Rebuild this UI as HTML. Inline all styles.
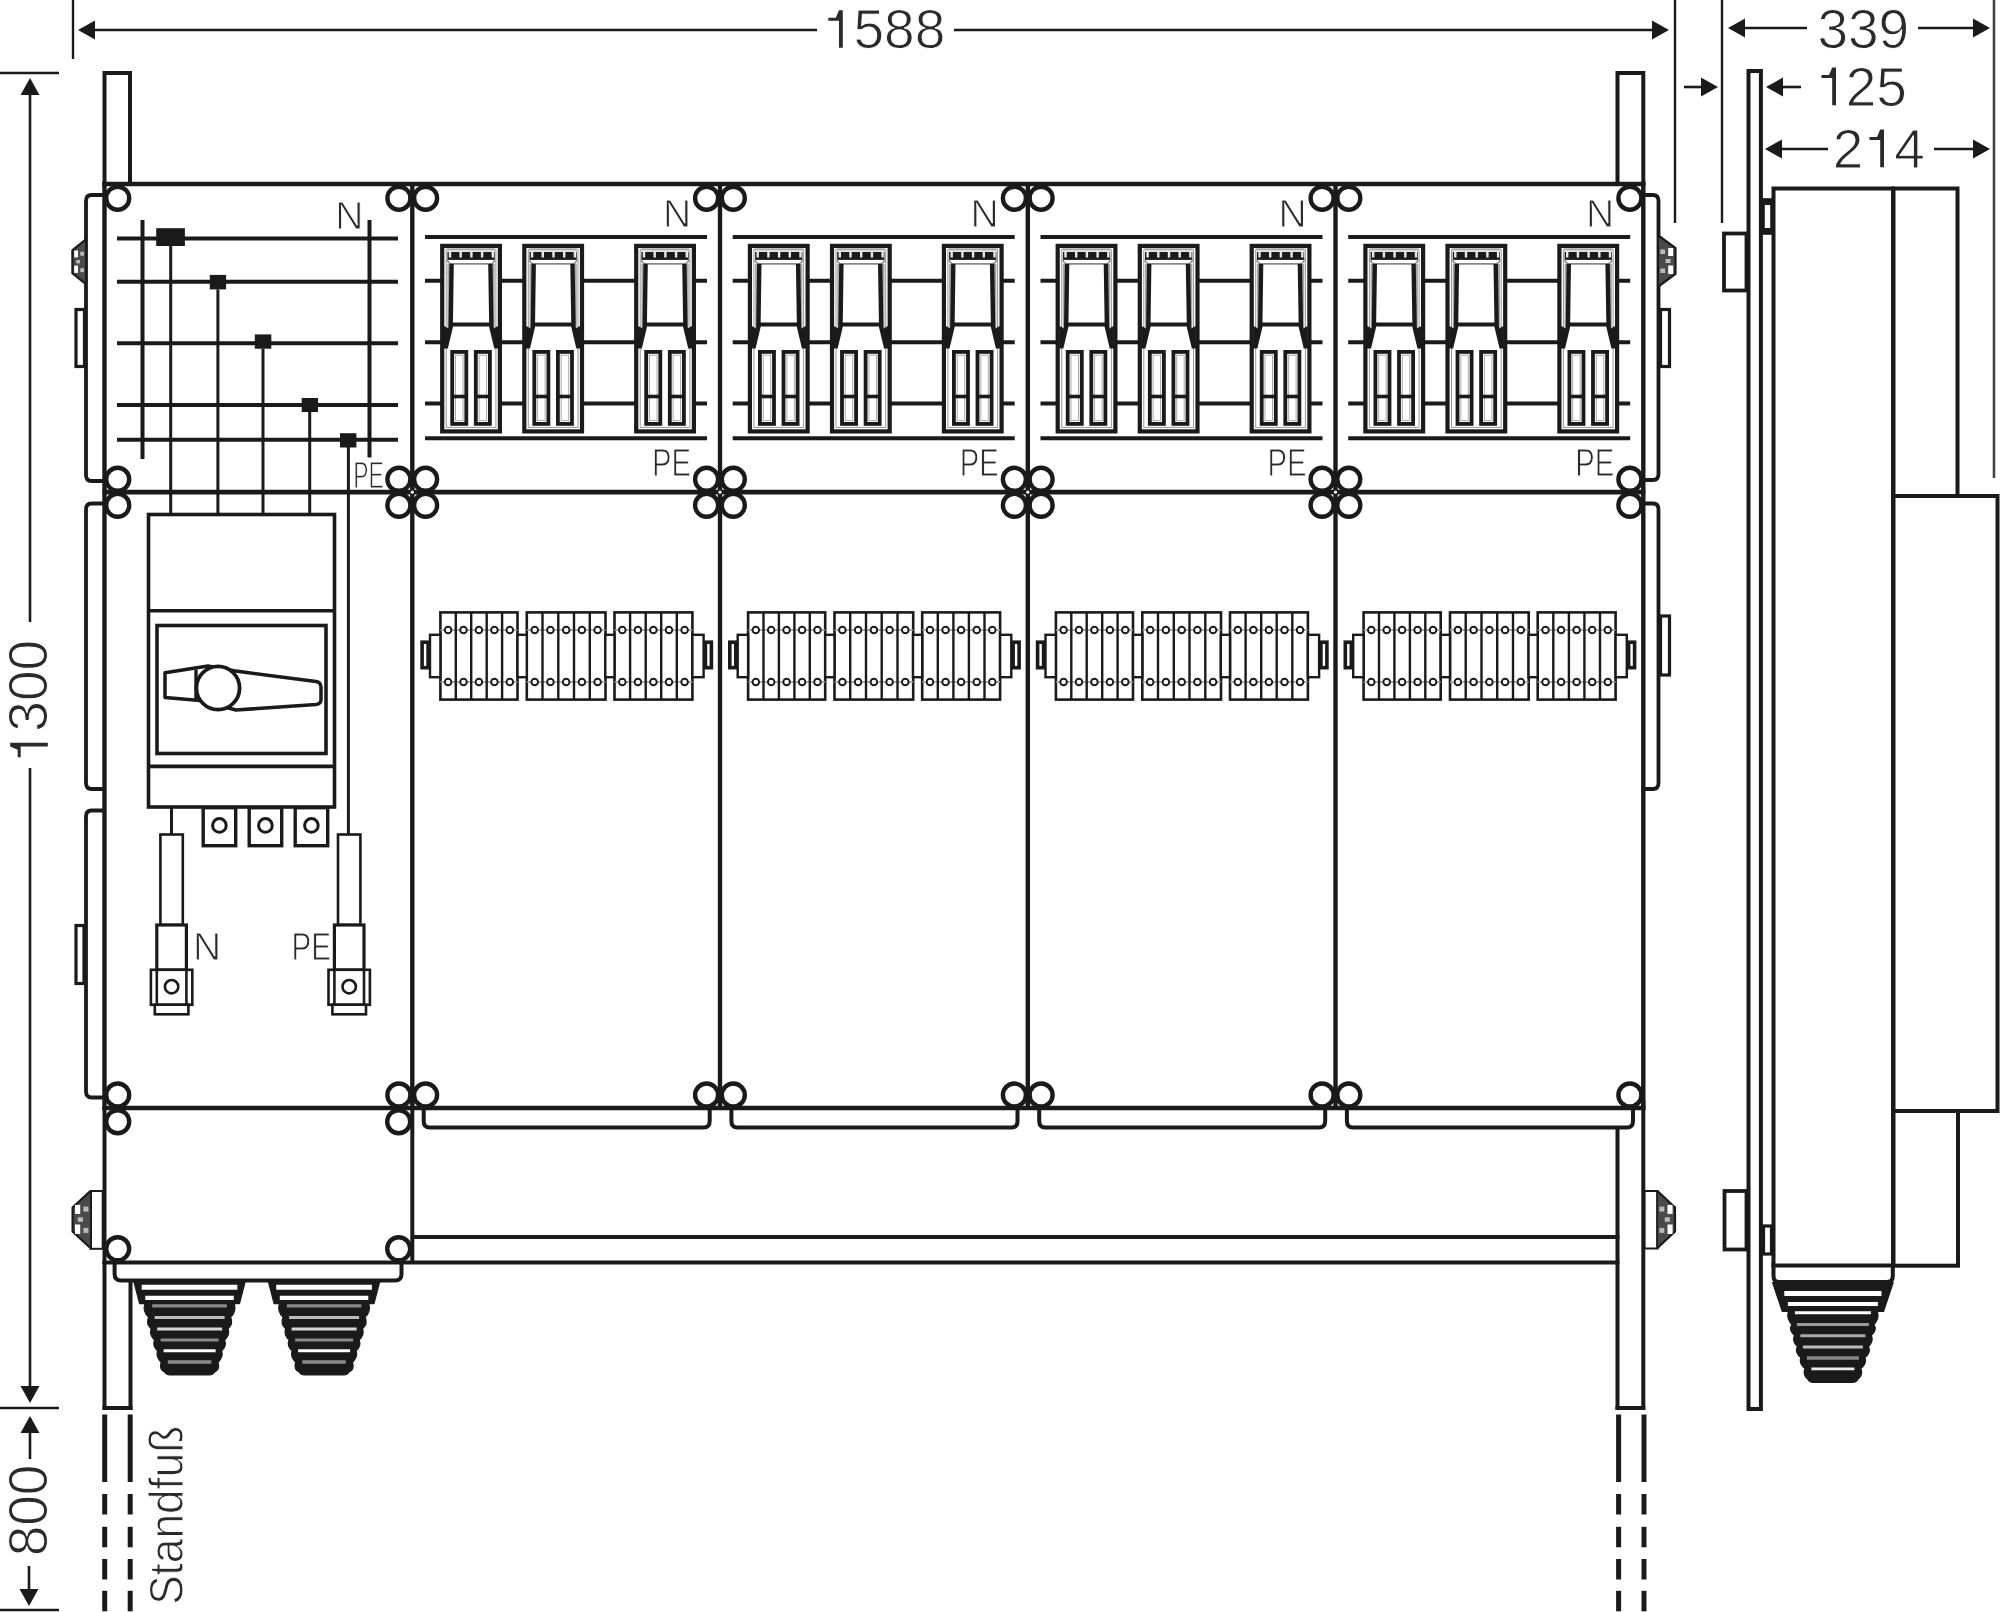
<!DOCTYPE html>
<html><head><meta charset="utf-8"><style>
html,body{margin:0;padding:0;background:#fff;}
svg{display:block;font-family:"Liberation Sans",sans-serif;}
text{-webkit-font-smoothing:antialiased;}
</style></head><body>
<svg width="2000" height="1612" viewBox="0 0 2000 1612" style="will-change:transform">
<rect width="2000" height="1612" fill="#fff"/>
<line x1="73.0" y1="0.0" x2="73.0" y2="59.0" stroke="#1a1a1a" stroke-width="2.4" />
<line x1="90.0" y1="30.0" x2="817.0" y2="30.0" stroke="#1a1a1a" stroke-width="2.6" />
<line x1="954.0" y1="30.0" x2="1660.0" y2="30.0" stroke="#1a1a1a" stroke-width="2.6" />
<polygon points="78,30 95,20.5 95,39.5" fill="#1a1a1a"/>
<polygon points="1669,30 1652,20.5 1652,39.5" fill="#1a1a1a"/>
<path d="M-10.7,-30.1 L-3.2,-30.1 L0,-37.6 L3.8,-37.6 L3.8,0 L0,0 L0,-27.1 L-10.7,-27.1 Z" fill="#2a2a2a" transform="translate(839 47.8)"/>
<text x="853.5" y="48.3" font-size="55" text-anchor="start" fill="#2a2a2a" stroke="#fff" stroke-width="1.0" >588</text>
<line x1="1675.0" y1="0.0" x2="1675.0" y2="223.0" stroke="#1a1a1a" stroke-width="2.4" />
<line x1="1722.0" y1="0.0" x2="1722.0" y2="223.0" stroke="#1a1a1a" stroke-width="2.4" />
<line x1="1994.0" y1="0.0" x2="1994.0" y2="478.0" stroke="#444" stroke-width="2.6" />
<polygon points="1728,28 1745,18.5 1745,37.5" fill="#1a1a1a"/>
<line x1="1740.0" y1="28.0" x2="1807.0" y2="28.0" stroke="#1a1a1a" stroke-width="2.6" />
<line x1="1918.0" y1="28.0" x2="1980.0" y2="28.0" stroke="#1a1a1a" stroke-width="2.6" />
<polygon points="1990,28 1973,18.5 1973,37.5" fill="#1a1a1a"/>
<text x="1817.4" y="48" font-size="55" text-anchor="start" fill="#2a2a2a" stroke="#fff" stroke-width="1.0" >339</text>
<line x1="1684.0" y1="87.0" x2="1705.0" y2="87.0" stroke="#1a1a1a" stroke-width="2.6" />
<polygon points="1718,87 1701,77.5 1701,96.5" fill="#1a1a1a"/>
<polygon points="1766,87 1783,77.5 1783,96.5" fill="#1a1a1a"/>
<line x1="1778.0" y1="87.0" x2="1801.0" y2="87.0" stroke="#1a1a1a" stroke-width="2.6" />
<path d="M-10.7,-30.1 L-3.2,-30.1 L0,-37.6 L3.8,-37.6 L3.8,0 L0,0 L0,-27.1 L-10.7,-27.1 Z" fill="#2a2a2a" transform="translate(1832.2 105.2)"/>
<text x="1845.7" y="105.5" font-size="55" text-anchor="start" fill="#2a2a2a" stroke="#fff" stroke-width="1.0" >25</text>
<polygon points="1765,149 1782,139.5 1782,158.5" fill="#1a1a1a"/>
<line x1="1778.0" y1="149.0" x2="1828.0" y2="149.0" stroke="#1a1a1a" stroke-width="2.6" />
<line x1="1934.0" y1="149.0" x2="1980.0" y2="149.0" stroke="#1a1a1a" stroke-width="2.6" />
<polygon points="1990,149 1973,139.5 1973,158.5" fill="#1a1a1a"/>
<text x="1832.7" y="167.5" font-size="55" text-anchor="start" fill="#2a2a2a" stroke="#fff" stroke-width="1.0" >2</text>
<path d="M-10.7,-30.1 L-3.2,-30.1 L0,-37.6 L3.8,-37.6 L3.8,0 L0,0 L0,-27.1 L-10.7,-27.1 Z" fill="#2a2a2a" transform="translate(1880.2 167.2)"/>
<text x="1894.2" y="167.5" font-size="55" text-anchor="start" fill="#2a2a2a" stroke="#fff" stroke-width="1.0" >4</text>
<line x1="0.0" y1="73.0" x2="59.0" y2="73.0" stroke="#1a1a1a" stroke-width="2.4" />
<line x1="0.0" y1="1408.0" x2="59.0" y2="1408.0" stroke="#1a1a1a" stroke-width="2.4" />
<line x1="0.0" y1="1610.0" x2="59.0" y2="1610.0" stroke="#1a1a1a" stroke-width="2.4" />
<polygon points="30,78 20.5,95 39.5,95" fill="#1a1a1a"/>
<line x1="30.0" y1="90.0" x2="30.0" y2="622.0" stroke="#1a1a1a" stroke-width="2.6" />
<line x1="30.0" y1="768.0" x2="30.0" y2="1392.0" stroke="#1a1a1a" stroke-width="2.6" />
<polygon points="30,1403 20.5,1386 39.5,1386" fill="#1a1a1a"/>
<path d="M-10.7,-30.1 L-3.2,-30.1 L0,-37.6 L3.8,-37.6 L3.8,0 L0,0 L0,-27.1 L-10.7,-27.1 Z" fill="#2a2a2a" transform="translate(47.8 746.5) rotate(-90)"/>
<text x="47.5" y="731.7" font-size="55" text-anchor="start" fill="#2a2a2a" stroke="#fff" stroke-width="1.0" transform="rotate(-90 47.5 731.7)" >300</text>
<polygon points="30,1416 20.5,1433 39.5,1433" fill="#1a1a1a"/>
<line x1="30.0" y1="1428.0" x2="30.0" y2="1459.0" stroke="#1a1a1a" stroke-width="2.6" />
<line x1="29.0" y1="1566.0" x2="29.0" y2="1595.0" stroke="#1a1a1a" stroke-width="2.6" />
<polygon points="29,1606 19.5,1589 38.5,1589" fill="#1a1a1a"/>
<text x="47.4" y="1556.3" font-size="55" text-anchor="start" fill="#2a2a2a" stroke="#fff" stroke-width="1.0" transform="rotate(-90 47.4 1556.3)" >800</text>
<text x="183" y="1515.3" font-size="48" text-anchor="middle" fill="#2a2a2a" stroke="#fff" stroke-width="1.0" transform="rotate(-90 183 1515.3)" textLength="179" lengthAdjust="spacingAndGlyphs">Standfu&#223;</text>
<rect x="104.5" y="73.0" width="25.5" height="111.0" fill="none" stroke="#1a1a1a" stroke-width="4"/>
<rect x="1617.5" y="73.0" width="25.8" height="111.0" fill="none" stroke="#1a1a1a" stroke-width="4"/>
<line x1="104.5" y1="1262.0" x2="104.5" y2="1410.0" stroke="#1a1a1a" stroke-width="4" />
<line x1="130.5" y1="1280.0" x2="130.5" y2="1410.0" stroke="#1a1a1a" stroke-width="4" />
<line x1="102.5" y1="1408.0" x2="132.5" y2="1408.0" stroke="#1a1a1a" stroke-width="4" />
<line x1="1617.5" y1="1127.0" x2="1617.5" y2="1410.0" stroke="#1a1a1a" stroke-width="4" />
<line x1="1643.3" y1="1100.0" x2="1643.3" y2="1410.0" stroke="#1a1a1a" stroke-width="4" />
<line x1="1615.5" y1="1408.0" x2="1645.3" y2="1408.0" stroke="#1a1a1a" stroke-width="4" />
<line x1="104.7" y1="1414.5" x2="104.7" y2="1482.0" stroke="#1a1a1a" stroke-width="5" />
<line x1="104.7" y1="1494.0" x2="104.7" y2="1514.5" stroke="#1a1a1a" stroke-width="5" />
<line x1="104.7" y1="1526.8" x2="104.7" y2="1547.3" stroke="#1a1a1a" stroke-width="5" />
<line x1="104.7" y1="1559.0" x2="104.7" y2="1579.5" stroke="#1a1a1a" stroke-width="5" />
<line x1="104.7" y1="1590.8" x2="104.7" y2="1611.3" stroke="#1a1a1a" stroke-width="5" />
<line x1="130.2" y1="1414.5" x2="130.2" y2="1482.0" stroke="#1a1a1a" stroke-width="5" />
<line x1="130.2" y1="1494.0" x2="130.2" y2="1514.5" stroke="#1a1a1a" stroke-width="5" />
<line x1="130.2" y1="1526.8" x2="130.2" y2="1547.3" stroke="#1a1a1a" stroke-width="5" />
<line x1="130.2" y1="1559.0" x2="130.2" y2="1579.5" stroke="#1a1a1a" stroke-width="5" />
<line x1="130.2" y1="1590.8" x2="130.2" y2="1611.3" stroke="#1a1a1a" stroke-width="5" />
<line x1="1618.6" y1="1414.5" x2="1618.6" y2="1482.0" stroke="#1a1a1a" stroke-width="5" />
<line x1="1618.6" y1="1494.0" x2="1618.6" y2="1514.5" stroke="#1a1a1a" stroke-width="5" />
<line x1="1618.6" y1="1526.8" x2="1618.6" y2="1547.3" stroke="#1a1a1a" stroke-width="5" />
<line x1="1618.6" y1="1559.0" x2="1618.6" y2="1579.5" stroke="#1a1a1a" stroke-width="5" />
<line x1="1618.6" y1="1590.8" x2="1618.6" y2="1611.3" stroke="#1a1a1a" stroke-width="5" />
<line x1="1644.0" y1="1414.5" x2="1644.0" y2="1482.0" stroke="#1a1a1a" stroke-width="5" />
<line x1="1644.0" y1="1494.0" x2="1644.0" y2="1514.5" stroke="#1a1a1a" stroke-width="5" />
<line x1="1644.0" y1="1526.8" x2="1644.0" y2="1547.3" stroke="#1a1a1a" stroke-width="5" />
<line x1="1644.0" y1="1559.0" x2="1644.0" y2="1579.5" stroke="#1a1a1a" stroke-width="5" />
<line x1="1644.0" y1="1590.8" x2="1644.0" y2="1611.3" stroke="#1a1a1a" stroke-width="5" />
<path d="M114.6,1262.5 L114.6,1274 Q114.6,1280.5 121,1280.5 L395,1280.5 Q401.5,1280.5 401.5,1274 L401.5,1262.5" fill="#fff" stroke="#1a1a1a" stroke-width="4" />
<path d="M423.7,1108.0 L423.7,1121 Q423.7,1127.5 429.7,1127.5 L703.7,1127.5 Q709.7,1127.5 709.7,1121 L709.7,1108.0" fill="#fff" stroke="#1a1a1a" stroke-width="4" />
<path d="M731.4,1108.0 L731.4,1121 Q731.4,1127.5 737.4,1127.5 L1011.5,1127.5 Q1017.5,1127.5 1017.5,1121 L1017.5,1108.0" fill="#fff" stroke="#1a1a1a" stroke-width="4" />
<path d="M1039.2,1108.0 L1039.2,1121 Q1039.2,1127.5 1045.2,1127.5 L1319.2,1127.5 Q1325.2,1127.5 1325.2,1121 L1325.2,1108.0" fill="#fff" stroke="#1a1a1a" stroke-width="4" />
<path d="M1346.9,1108.0 L1346.9,1121 Q1346.9,1127.5 1352.9,1127.5 L1627.0,1127.5 Q1633.0,1127.5 1633.0,1121 L1633.0,1108.0" fill="#fff" stroke="#1a1a1a" stroke-width="4" />
<line x1="102.5" y1="184.0" x2="1645.3" y2="184.0" stroke="#1a1a1a" stroke-width="4.6" />
<line x1="102.5" y1="492.2" x2="1645.3" y2="492.2" stroke="#1a1a1a" stroke-width="4.8" />
<line x1="102.5" y1="1108.0" x2="1645.3" y2="1108.0" stroke="#1a1a1a" stroke-width="4.6" />
<line x1="104.5" y1="182.0" x2="104.5" y2="1110.0" stroke="#1a1a1a" stroke-width="4.4" />
<line x1="412.3" y1="182.0" x2="412.3" y2="1110.0" stroke="#1a1a1a" stroke-width="4.4" />
<line x1="720.0" y1="182.0" x2="720.0" y2="1110.0" stroke="#1a1a1a" stroke-width="4.4" />
<line x1="1027.8" y1="182.0" x2="1027.8" y2="1110.0" stroke="#1a1a1a" stroke-width="4.4" />
<line x1="1335.5" y1="182.0" x2="1335.5" y2="1110.0" stroke="#1a1a1a" stroke-width="4.4" />
<line x1="1643.3" y1="182.0" x2="1643.3" y2="1110.0" stroke="#1a1a1a" stroke-width="4.4" />
<line x1="104.5" y1="1108.0" x2="104.5" y2="1264.0" stroke="#1a1a1a" stroke-width="4" />
<line x1="412.3" y1="1108.0" x2="412.3" y2="1264.0" stroke="#1a1a1a" stroke-width="4" />
<line x1="102.5" y1="1262.5" x2="1619.5" y2="1262.5" stroke="#1a1a1a" stroke-width="4" />
<line x1="412.3" y1="1237.0" x2="1619.5" y2="1237.0" stroke="#1a1a1a" stroke-width="4" />
<path d="M104.5,195 L91.5,195 Q86,195 86,201 L86,475 Q86,481 91.5,481 L104.5,481" fill="none" stroke="#1a1a1a" stroke-width="3.8" />
<path d="M104.5,503.5 L91.5,503.5 Q86,503.5 86,509.5 L86,783 Q86,789 91.5,789 L104.5,789" fill="none" stroke="#1a1a1a" stroke-width="3.8" />
<path d="M104.5,810.5 L91.5,810.5 Q86,810.5 86,816.5 L86,1091.5 Q86,1097.5 91.5,1097.5 L104.5,1097.5" fill="none" stroke="#1a1a1a" stroke-width="3.8" />
<path d="M1643.3,195 L1653,195 Q1658.5,195 1658.5,201 L1658.5,474 Q1658.5,480 1653,480 L1643.3,480" fill="none" stroke="#1a1a1a" stroke-width="3.8" />
<path d="M1643.3,503.5 L1653,503.5 Q1658.5,503.5 1658.5,509.5 L1658.5,783 Q1658.5,789 1653,789 L1643.3,789" fill="none" stroke="#1a1a1a" stroke-width="3.8" />
<rect x="76.0" y="309.5" width="8.5" height="57.0" fill="none" stroke="#1a1a1a" stroke-width="3.2"/>
<rect x="76.0" y="925.5" width="8.0" height="58.0" fill="none" stroke="#1a1a1a" stroke-width="3.2"/>
<rect x="1660.5" y="309.5" width="9.0" height="57.0" fill="none" stroke="#1a1a1a" stroke-width="3.2"/>
<rect x="1660.5" y="616.0" width="9.0" height="59.0" fill="none" stroke="#1a1a1a" stroke-width="3.2"/>
<rect x="90.5" y="1191.0" width="12.2" height="57.8" fill="#fff" stroke="#1a1a1a" stroke-width="2.0"/>
<line x1="90.8" y1="1191.0" x2="90.8" y2="1248.8" stroke="#1a1a1a" stroke-width="2.4" />
<path d="M89.8,1191.5 L72.6,1207.5 L72.6,1231.5 L89.8,1247.5" fill="#4a4a4a" stroke="#1a1a1a" stroke-width="2.2" />
<rect x="75.0" y="1204.9" width="5.2" height="9.0" fill="#fff"/>
<rect x="75.0" y="1224.5" width="5.2" height="9.5" fill="#fff"/>
<rect x="77.8" y="1217.3" width="5.2" height="4.5" fill="#bbb"/>
<rect x="83.4" y="1206.6" width="5.0" height="5.0" fill="#bbb"/>
<rect x="83.4" y="1227.9" width="5.0" height="5.0" fill="#bbb"/>
<rect x="1644.6" y="1191.0" width="13.0" height="57.5" fill="#fff" stroke="#1a1a1a" stroke-width="2.0"/>
<line x1="1657.4" y1="1191.0" x2="1657.4" y2="1248.5" stroke="#1a1a1a" stroke-width="2.4" />
<path d="M1658,1191.5 L1675,1207.5 L1675,1231.5 L1658,1247.5" fill="#4a4a4a" stroke="#1a1a1a" stroke-width="2.2" />
<rect x="1667.5" y="1204.9" width="5.1" height="9.0" fill="#fff"/>
<rect x="1667.5" y="1224.5" width="5.1" height="9.5" fill="#fff"/>
<rect x="1664.8" y="1217.3" width="5.1" height="4.5" fill="#bbb"/>
<rect x="1659.4" y="1206.6" width="4.9" height="5.0" fill="#bbb"/>
<rect x="1659.4" y="1227.9" width="4.9" height="5.0" fill="#bbb"/>
<path d="M85,240.2 L72.4,250.2 L72.4,273.3 L85,283.3" fill="#4a4a4a" stroke="#1a1a1a" stroke-width="2.2" />
<rect x="74.2" y="250.5" width="3.8" height="6.9" fill="#fff"/>
<rect x="74.2" y="265.6" width="3.8" height="7.3" fill="#fff"/>
<rect x="76.2" y="260.0" width="3.8" height="3.4" fill="#bbb"/>
<rect x="80.3" y="251.8" width="3.7" height="3.9" fill="#bbb"/>
<rect x="80.3" y="268.2" width="3.7" height="3.9" fill="#bbb"/>
<path d="M1659,236 L1675.5,248 L1675.5,274 L1659,286" fill="#4a4a4a" stroke="#1a1a1a" stroke-width="2.2" />
<rect x="1668.2" y="248.0" width="5.0" height="8.0" fill="#fff"/>
<rect x="1668.2" y="265.5" width="5.0" height="8.5" fill="#fff"/>
<rect x="1665.6" y="259.0" width="5.0" height="4.0" fill="#bbb"/>
<rect x="1660.3" y="249.5" width="4.8" height="4.5" fill="#bbb"/>
<rect x="1660.3" y="268.5" width="4.8" height="4.5" fill="#bbb"/>
<circle cx="117.7" cy="198.2" r="11.5" fill="#fff" stroke="#1a1a1a" stroke-width="4.4"/>
<circle cx="398.9" cy="198.2" r="11.5" fill="#fff" stroke="#1a1a1a" stroke-width="4.4"/>
<circle cx="425.6" cy="198.2" r="11.5" fill="#fff" stroke="#1a1a1a" stroke-width="4.4"/>
<circle cx="706.6" cy="198.2" r="11.5" fill="#fff" stroke="#1a1a1a" stroke-width="4.4"/>
<circle cx="733.3" cy="198.2" r="11.5" fill="#fff" stroke="#1a1a1a" stroke-width="4.4"/>
<circle cx="1014.4" cy="198.2" r="11.5" fill="#fff" stroke="#1a1a1a" stroke-width="4.4"/>
<circle cx="1041.1" cy="198.2" r="11.5" fill="#fff" stroke="#1a1a1a" stroke-width="4.4"/>
<circle cx="1322.1" cy="198.2" r="11.5" fill="#fff" stroke="#1a1a1a" stroke-width="4.4"/>
<circle cx="1348.8" cy="198.2" r="11.5" fill="#fff" stroke="#1a1a1a" stroke-width="4.4"/>
<circle cx="1629.9" cy="198.2" r="11.5" fill="#fff" stroke="#1a1a1a" stroke-width="4.4"/>
<circle cx="117.7" cy="479.3" r="11.5" fill="#fff" stroke="#1a1a1a" stroke-width="4.4"/>
<circle cx="398.9" cy="479.3" r="11.5" fill="#fff" stroke="#1a1a1a" stroke-width="4.4"/>
<circle cx="425.6" cy="479.3" r="11.5" fill="#fff" stroke="#1a1a1a" stroke-width="4.4"/>
<circle cx="706.6" cy="479.3" r="11.5" fill="#fff" stroke="#1a1a1a" stroke-width="4.4"/>
<circle cx="733.3" cy="479.3" r="11.5" fill="#fff" stroke="#1a1a1a" stroke-width="4.4"/>
<circle cx="1014.4" cy="479.3" r="11.5" fill="#fff" stroke="#1a1a1a" stroke-width="4.4"/>
<circle cx="1041.1" cy="479.3" r="11.5" fill="#fff" stroke="#1a1a1a" stroke-width="4.4"/>
<circle cx="1322.1" cy="479.3" r="11.5" fill="#fff" stroke="#1a1a1a" stroke-width="4.4"/>
<circle cx="1348.8" cy="479.3" r="11.5" fill="#fff" stroke="#1a1a1a" stroke-width="4.4"/>
<circle cx="1629.9" cy="479.3" r="11.5" fill="#fff" stroke="#1a1a1a" stroke-width="4.4"/>
<circle cx="117.7" cy="505.3" r="11.5" fill="#fff" stroke="#1a1a1a" stroke-width="4.4"/>
<circle cx="398.9" cy="505.3" r="11.5" fill="#fff" stroke="#1a1a1a" stroke-width="4.4"/>
<circle cx="425.6" cy="505.3" r="11.5" fill="#fff" stroke="#1a1a1a" stroke-width="4.4"/>
<circle cx="706.6" cy="505.3" r="11.5" fill="#fff" stroke="#1a1a1a" stroke-width="4.4"/>
<circle cx="733.3" cy="505.3" r="11.5" fill="#fff" stroke="#1a1a1a" stroke-width="4.4"/>
<circle cx="1014.4" cy="505.3" r="11.5" fill="#fff" stroke="#1a1a1a" stroke-width="4.4"/>
<circle cx="1041.1" cy="505.3" r="11.5" fill="#fff" stroke="#1a1a1a" stroke-width="4.4"/>
<circle cx="1322.1" cy="505.3" r="11.5" fill="#fff" stroke="#1a1a1a" stroke-width="4.4"/>
<circle cx="1348.8" cy="505.3" r="11.5" fill="#fff" stroke="#1a1a1a" stroke-width="4.4"/>
<circle cx="1629.9" cy="505.3" r="11.5" fill="#fff" stroke="#1a1a1a" stroke-width="4.4"/>
<circle cx="117.7" cy="1095.0" r="11.5" fill="#fff" stroke="#1a1a1a" stroke-width="4.4"/>
<circle cx="398.9" cy="1095.0" r="11.5" fill="#fff" stroke="#1a1a1a" stroke-width="4.4"/>
<circle cx="425.6" cy="1095.0" r="11.5" fill="#fff" stroke="#1a1a1a" stroke-width="4.4"/>
<circle cx="706.6" cy="1095.0" r="11.5" fill="#fff" stroke="#1a1a1a" stroke-width="4.4"/>
<circle cx="733.3" cy="1095.0" r="11.5" fill="#fff" stroke="#1a1a1a" stroke-width="4.4"/>
<circle cx="1014.4" cy="1095.0" r="11.5" fill="#fff" stroke="#1a1a1a" stroke-width="4.4"/>
<circle cx="1041.1" cy="1095.0" r="11.5" fill="#fff" stroke="#1a1a1a" stroke-width="4.4"/>
<circle cx="1322.1" cy="1095.0" r="11.5" fill="#fff" stroke="#1a1a1a" stroke-width="4.4"/>
<circle cx="1348.8" cy="1095.0" r="11.5" fill="#fff" stroke="#1a1a1a" stroke-width="4.4"/>
<circle cx="1629.9" cy="1095.0" r="11.5" fill="#fff" stroke="#1a1a1a" stroke-width="4.4"/>
<circle cx="412.3" cy="492.2" r="1.6" fill="#fff"/>
<circle cx="720.0" cy="492.2" r="1.6" fill="#fff"/>
<circle cx="1027.8" cy="492.2" r="1.6" fill="#fff"/>
<circle cx="1335.5" cy="492.2" r="1.6" fill="#fff"/>
<circle cx="117.7" cy="1121.7" r="11.5" fill="#fff" stroke="#1a1a1a" stroke-width="4.4"/>
<circle cx="398.7" cy="1121.7" r="11.5" fill="#fff" stroke="#1a1a1a" stroke-width="4.4"/>
<circle cx="117.7" cy="1248.8" r="11.5" fill="#fff" stroke="#1a1a1a" stroke-width="4.4"/>
<circle cx="398.7" cy="1248.8" r="11.5" fill="#fff" stroke="#1a1a1a" stroke-width="4.4"/>
<line x1="117.0" y1="238.4" x2="398.0" y2="238.4" stroke="#1a1a1a" stroke-width="4" />
<line x1="117.0" y1="281.8" x2="398.0" y2="281.8" stroke="#1a1a1a" stroke-width="4" />
<line x1="117.0" y1="343.3" x2="398.0" y2="343.3" stroke="#1a1a1a" stroke-width="4" />
<line x1="117.0" y1="405.0" x2="398.0" y2="405.0" stroke="#1a1a1a" stroke-width="4" />
<line x1="117.0" y1="439.7" x2="398.0" y2="439.7" stroke="#1a1a1a" stroke-width="4" />
<line x1="142.5" y1="220.0" x2="142.5" y2="459.0" stroke="#1a1a1a" stroke-width="4" />
<line x1="369.5" y1="220.0" x2="369.5" y2="457.5" stroke="#1a1a1a" stroke-width="4" />
<rect x="156.2" y="228.2" width="28.7" height="17.8" fill="#1a1a1a"/>
<rect x="209.8" y="274.9" width="16.3" height="14.5" fill="#1a1a1a"/>
<rect x="254.8" y="334.4" width="16.5" height="14.3" fill="#1a1a1a"/>
<rect x="301.7" y="398.0" width="16.3" height="14.0" fill="#1a1a1a"/>
<rect x="340.0" y="433.2" width="16.4" height="14.3" fill="#1a1a1a"/>
<line x1="170.7" y1="246.0" x2="170.7" y2="514.0" stroke="#1a1a1a" stroke-width="3" />
<line x1="217.9" y1="289.4" x2="217.9" y2="514.0" stroke="#1a1a1a" stroke-width="3" />
<line x1="263.0" y1="348.7" x2="263.0" y2="514.0" stroke="#1a1a1a" stroke-width="3" />
<line x1="309.7" y1="412.0" x2="309.7" y2="514.0" stroke="#1a1a1a" stroke-width="3" />
<line x1="348.4" y1="447.0" x2="348.4" y2="835.0" stroke="#1a1a1a" stroke-width="3" />
<text x="349.3" y="228.5" font-size="39" text-anchor="middle" fill="#2a2a2a" stroke="#fff" stroke-width="1.0" >N</text>
<text x="368.6" y="487.5" font-size="37" text-anchor="middle" fill="#2a2a2a" stroke="#fff" stroke-width="1.0" textLength="30.5" lengthAdjust="spacingAndGlyphs">PE</text>
<rect x="148.5" y="514.5" width="186.0" height="292.5" fill="#fff" stroke="#1a1a1a" stroke-width="3.6"/>
<line x1="148.5" y1="610.8" x2="334.5" y2="610.8" stroke="#1a1a1a" stroke-width="3.6" />
<rect x="157.0" y="625.5" width="169.0" height="128.0" fill="none" stroke="#1a1a1a" stroke-width="3.6"/>
<line x1="148.5" y1="766.4" x2="334.5" y2="766.4" stroke="#1a1a1a" stroke-width="3.6" />
<path d="M165,672.8 L208,666 L234,670.8 L316,681.5 Q321,682.3 321,687.5 L321,699.5 Q321,704 316,704.5 L236,710 L200,700.5 L165,697.4 Z" fill="#fff" stroke="#1a1a1a" stroke-width="3.5" stroke-linejoin="round"/>
<line x1="196.0" y1="669.5" x2="196.0" y2="699.8" stroke="#1a1a1a" stroke-width="3.4" />
<circle cx="218.0" cy="688.0" r="21.6" fill="#fff" stroke="#1a1a1a" stroke-width="3.8"/>
<rect x="203.2" y="807.7" width="32.5" height="38.0" fill="#fff" stroke="#1a1a1a" stroke-width="3.4"/>
<circle cx="219.4" cy="825.4" r="6.8" fill="#fff" stroke="#1a1a1a" stroke-width="3"/>
<rect x="249.2" y="807.7" width="32.5" height="38.0" fill="#fff" stroke="#1a1a1a" stroke-width="3.4"/>
<circle cx="265.4" cy="825.4" r="6.8" fill="#fff" stroke="#1a1a1a" stroke-width="3"/>
<rect x="295.2" y="807.7" width="32.5" height="38.0" fill="#fff" stroke="#1a1a1a" stroke-width="3.4"/>
<circle cx="311.4" cy="825.4" r="6.8" fill="#fff" stroke="#1a1a1a" stroke-width="3"/>
<line x1="171.5" y1="807.0" x2="171.5" y2="834.0" stroke="#1a1a1a" stroke-width="3" />
<rect x="160.4" y="834.5" width="22.4" height="90.5" fill="#fff" stroke="#1a1a1a" stroke-width="2.6"/>
<rect x="156.8" y="925.0" width="29.6" height="45.0" fill="#fff" stroke="#1a1a1a" stroke-width="3.2"/>
<rect x="150.9" y="969.8" width="41.4" height="35.0" fill="#fff" stroke="#1a1a1a" stroke-width="2.6"/>
<line x1="156.8" y1="969.8" x2="156.8" y2="1004.7" stroke="#1a1a1a" stroke-width="2.6" />
<line x1="186.4" y1="969.8" x2="186.4" y2="1004.7" stroke="#1a1a1a" stroke-width="2.6" />
<rect x="154.8" y="1004.7" width="33.6" height="9.6" fill="#fff" stroke="#1a1a1a" stroke-width="2.6"/>
<circle cx="171.6" cy="986.7" r="6.7" fill="#fff" stroke="#1a1a1a" stroke-width="2.6"/>
<rect x="338.0" y="834.5" width="22.4" height="90.5" fill="#fff" stroke="#1a1a1a" stroke-width="2.6"/>
<rect x="334.4" y="925.0" width="29.6" height="45.0" fill="#fff" stroke="#1a1a1a" stroke-width="3.2"/>
<rect x="328.5" y="969.8" width="41.4" height="35.0" fill="#fff" stroke="#1a1a1a" stroke-width="2.6"/>
<line x1="334.4" y1="969.8" x2="334.4" y2="1004.7" stroke="#1a1a1a" stroke-width="2.6" />
<line x1="364.0" y1="969.8" x2="364.0" y2="1004.7" stroke="#1a1a1a" stroke-width="2.6" />
<rect x="332.4" y="1004.7" width="33.6" height="9.6" fill="#fff" stroke="#1a1a1a" stroke-width="2.6"/>
<circle cx="349.2" cy="986.7" r="6.7" fill="#fff" stroke="#1a1a1a" stroke-width="2.6"/>
<text x="207" y="959.5" font-size="39" text-anchor="middle" fill="#2a2a2a" stroke="#fff" stroke-width="1.0" >N</text>
<text x="311.2" y="959.5" font-size="39" text-anchor="middle" fill="#2a2a2a" stroke="#fff" stroke-width="1.0" textLength="39.5" lengthAdjust="spacingAndGlyphs">PE</text>
<path d="M133.5,1280.0 L139.6,1303.6 L144.8,1303.6 Q142.6,1312.0 148.6,1317.0 Q145.6,1324.0 151.1,1328.7 Q149.1,1335.0 154.6,1340.0 Q152.1,1345.8 157.6,1350.8 Q155.6,1356.6 161.1,1362.3 Q159.1,1369.5 164.6,1372.0 Q166.6,1375.0 169.6,1375.0 L209.6,1375.0 Q212.6,1375.0 214.6,1372.0 Q220.1,1369.5 218.1,1362.3 Q223.6,1356.6 221.6,1350.8 Q227.1,1345.8 224.6,1340.0 Q230.1,1335.0 228.1,1328.7 Q233.6,1324.0 230.6,1317.0 Q236.6,1312.0 234.3,1303.6 L239.5,1303.6 L245.6,1280.0 Z" fill="#1a1a1a" stroke="#1a1a1a" stroke-width="1.2" stroke-linejoin="round"/>
<line x1="141.7" y1="1287.3" x2="237.4" y2="1287.3" stroke="#fff" stroke-width="5" />
<line x1="145.3" y1="1297.8" x2="233.8" y2="1297.8" stroke="#fff" stroke-width="4.3" />
<line x1="152.2" y1="1305.8" x2="226.9" y2="1305.8" stroke="#8a8a8a" stroke-width="3.2" />
<line x1="154.6" y1="1317.4" x2="224.6" y2="1317.4" stroke="#bdbdbd" stroke-width="3" />
<line x1="157.1" y1="1329.0" x2="222.1" y2="1329.0" stroke="#d8d8d8" stroke-width="3" />
<line x1="160.6" y1="1340.0" x2="218.6" y2="1340.0" stroke="#8a8a8a" stroke-width="3" />
<line x1="163.6" y1="1350.8" x2="215.6" y2="1350.8" stroke="#fff" stroke-width="3" />
<line x1="167.8" y1="1362.0" x2="211.3" y2="1362.0" stroke="#8a8a8a" stroke-width="3.4" />
<path d="M268.0,1280.0 L274.1,1303.6 L279.3,1303.6 Q277.1,1312.0 283.1,1317.0 Q280.1,1324.0 285.6,1328.7 Q283.6,1335.0 289.1,1340.0 Q286.6,1345.8 292.1,1350.8 Q290.1,1356.6 295.6,1362.3 Q293.6,1369.5 299.1,1372.0 Q301.1,1375.0 304.1,1375.0 L344.1,1375.0 Q347.1,1375.0 349.1,1372.0 Q354.6,1369.5 352.6,1362.3 Q358.1,1356.6 356.1,1350.8 Q361.6,1345.8 359.1,1340.0 Q364.6,1335.0 362.6,1328.7 Q368.1,1324.0 365.1,1317.0 Q371.1,1312.0 368.8,1303.6 L374.0,1303.6 L380.1,1280.0 Z" fill="#1a1a1a" stroke="#1a1a1a" stroke-width="1.2" stroke-linejoin="round"/>
<line x1="276.2" y1="1287.3" x2="371.9" y2="1287.3" stroke="#fff" stroke-width="5" />
<line x1="279.8" y1="1297.8" x2="368.3" y2="1297.8" stroke="#fff" stroke-width="4.3" />
<line x1="286.8" y1="1305.8" x2="361.4" y2="1305.8" stroke="#8a8a8a" stroke-width="3.2" />
<line x1="289.1" y1="1317.4" x2="359.1" y2="1317.4" stroke="#bdbdbd" stroke-width="3" />
<line x1="291.6" y1="1329.0" x2="356.6" y2="1329.0" stroke="#d8d8d8" stroke-width="3" />
<line x1="295.1" y1="1340.0" x2="353.1" y2="1340.0" stroke="#8a8a8a" stroke-width="3" />
<line x1="298.1" y1="1350.8" x2="350.1" y2="1350.8" stroke="#fff" stroke-width="3" />
<line x1="302.3" y1="1362.0" x2="345.8" y2="1362.0" stroke="#8a8a8a" stroke-width="3.4" />
<defs><g id="fuse">
<rect x="2.0" y="2.0" width="57.7" height="185.5" fill="#fff" stroke="#1a1a1a" stroke-width="4.2"/>
<rect x="6.0" y="6.0" width="49.7" height="177.5" fill="none" stroke="#999" stroke-width="1"/>
<line x1="6.5" y1="5.2" x2="55.0" y2="5.2" stroke="#aaa" stroke-width="1.6" />
<rect x="7.2" y="8.0" width="47.3" height="8.0" fill="#1a1a1a"/>
<rect x="8.6" y="8.0" width="2.4" height="5.6" fill="#e8e8e8"/>
<rect x="19.3" y="8.0" width="2.4" height="5.6" fill="#e8e8e8"/>
<rect x="30.0" y="8.0" width="2.4" height="5.6" fill="#e8e8e8"/>
<rect x="40.7" y="8.0" width="2.4" height="5.6" fill="#e8e8e8"/>
<rect x="51.4" y="8.0" width="2.4" height="5.6" fill="#e8e8e8"/>
<path d="M7,15.5 Q8,20 12,20 L49.7,20 Q53.7,20 54.7,15.5" fill="none" stroke="#888" stroke-width="1.6" />
<rect x="7.2" y="20.0" width="2.4" height="64.0" fill="#a8a8a8"/>
<rect x="52.1" y="20.0" width="2.4" height="64.0" fill="#a8a8a8"/>
<path d="M3.6,82 Q8.5,84 10,87 L6.8,104.5 L3.6,104.5 Z" fill="#1a1a1a" stroke="#1a1a1a" stroke-width="0" />
<path d="M58.1,82 Q53.2,84 51.7,87 L54.9,104.5 L58.1,104.5 Z" fill="#1a1a1a" stroke="#1a1a1a" stroke-width="0" />
<path d="M11.4,20 L10.5,83 L5.5,104" fill="none" stroke="#1a1a1a" stroke-width="4.4" />
<path d="M50.2,20 L51.2,83 L56.2,104" fill="none" stroke="#1a1a1a" stroke-width="4.4" />
<line x1="10.5" y1="80.6" x2="51.2" y2="80.6" stroke="#1a1a1a" stroke-width="4" />
<rect x="12.0" y="108.0" width="14.1" height="72.0" fill="#fff" stroke="#1a1a1a" stroke-width="3.8"/>
<rect x="15.3" y="111.3" width="7.5" height="65.4" fill="none" stroke="#aaa" stroke-width="1"/>
<line x1="12.0" y1="152.6" x2="26.1" y2="152.6" stroke="#1a1a1a" stroke-width="3.6" />
<rect x="35.6" y="108.0" width="14.1" height="72.0" fill="#fff" stroke="#1a1a1a" stroke-width="3.8"/>
<rect x="38.9" y="111.3" width="7.5" height="65.4" fill="none" stroke="#aaa" stroke-width="1"/>
<line x1="35.6" y1="152.6" x2="49.7" y2="152.6" stroke="#1a1a1a" stroke-width="3.6" />
</g>
<g id="term">
<rect x="0.0" y="0.0" width="77.1" height="87.2" fill="#fff" stroke="#1a1a1a" stroke-width="2.6"/>
<line x1="0.0" y1="17.6" x2="77.1" y2="17.6" stroke="#999" stroke-width="1.4" />
<line x1="0.0" y1="69.6" x2="77.1" y2="69.6" stroke="#999" stroke-width="1.4" />
<line x1="15.4" y1="0.0" x2="15.4" y2="87.2" stroke="#1a1a1a" stroke-width="2.4" />
<line x1="30.8" y1="0.0" x2="30.8" y2="87.2" stroke="#1a1a1a" stroke-width="2.4" />
<line x1="46.3" y1="0.0" x2="46.3" y2="87.2" stroke="#1a1a1a" stroke-width="2.4" />
<line x1="61.7" y1="0.0" x2="61.7" y2="87.2" stroke="#1a1a1a" stroke-width="2.4" />
<circle cx="7.7" cy="17.6" r="3.3" fill="#fff" stroke="#1a1a1a" stroke-width="1.9"/>
<circle cx="7.7" cy="69.6" r="3.3" fill="#fff" stroke="#1a1a1a" stroke-width="1.9"/>
<circle cx="23.1" cy="17.6" r="3.3" fill="#fff" stroke="#1a1a1a" stroke-width="1.9"/>
<circle cx="23.1" cy="69.6" r="3.3" fill="#fff" stroke="#1a1a1a" stroke-width="1.9"/>
<circle cx="38.5" cy="17.6" r="3.3" fill="#fff" stroke="#1a1a1a" stroke-width="1.9"/>
<circle cx="38.5" cy="69.6" r="3.3" fill="#fff" stroke="#1a1a1a" stroke-width="1.9"/>
<circle cx="54.0" cy="17.6" r="3.3" fill="#fff" stroke="#1a1a1a" stroke-width="1.9"/>
<circle cx="54.0" cy="69.6" r="3.3" fill="#fff" stroke="#1a1a1a" stroke-width="1.9"/>
<circle cx="69.4" cy="17.6" r="3.3" fill="#fff" stroke="#1a1a1a" stroke-width="1.9"/>
<circle cx="69.4" cy="69.6" r="3.3" fill="#fff" stroke="#1a1a1a" stroke-width="1.9"/>
<rect x="86.4" y="0.0" width="78.7" height="87.2" fill="#fff" stroke="#1a1a1a" stroke-width="2.6"/>
<line x1="86.4" y1="17.6" x2="165.1" y2="17.6" stroke="#999" stroke-width="1.4" />
<line x1="86.4" y1="69.6" x2="165.1" y2="69.6" stroke="#999" stroke-width="1.4" />
<line x1="102.1" y1="0.0" x2="102.1" y2="87.2" stroke="#1a1a1a" stroke-width="2.4" />
<line x1="117.9" y1="0.0" x2="117.9" y2="87.2" stroke="#1a1a1a" stroke-width="2.4" />
<line x1="133.6" y1="0.0" x2="133.6" y2="87.2" stroke="#1a1a1a" stroke-width="2.4" />
<line x1="149.4" y1="0.0" x2="149.4" y2="87.2" stroke="#1a1a1a" stroke-width="2.4" />
<circle cx="94.3" cy="17.6" r="3.3" fill="#fff" stroke="#1a1a1a" stroke-width="1.9"/>
<circle cx="94.3" cy="69.6" r="3.3" fill="#fff" stroke="#1a1a1a" stroke-width="1.9"/>
<circle cx="110.0" cy="17.6" r="3.3" fill="#fff" stroke="#1a1a1a" stroke-width="1.9"/>
<circle cx="110.0" cy="69.6" r="3.3" fill="#fff" stroke="#1a1a1a" stroke-width="1.9"/>
<circle cx="125.8" cy="17.6" r="3.3" fill="#fff" stroke="#1a1a1a" stroke-width="1.9"/>
<circle cx="125.8" cy="69.6" r="3.3" fill="#fff" stroke="#1a1a1a" stroke-width="1.9"/>
<circle cx="141.5" cy="17.6" r="3.3" fill="#fff" stroke="#1a1a1a" stroke-width="1.9"/>
<circle cx="141.5" cy="69.6" r="3.3" fill="#fff" stroke="#1a1a1a" stroke-width="1.9"/>
<circle cx="157.2" cy="17.6" r="3.3" fill="#fff" stroke="#1a1a1a" stroke-width="1.9"/>
<circle cx="157.2" cy="69.6" r="3.3" fill="#fff" stroke="#1a1a1a" stroke-width="1.9"/>
<rect x="174.1" y="0.0" width="77.9" height="87.2" fill="#fff" stroke="#1a1a1a" stroke-width="2.6"/>
<line x1="174.1" y1="17.6" x2="252.0" y2="17.6" stroke="#999" stroke-width="1.4" />
<line x1="174.1" y1="69.6" x2="252.0" y2="69.6" stroke="#999" stroke-width="1.4" />
<line x1="189.7" y1="0.0" x2="189.7" y2="87.2" stroke="#1a1a1a" stroke-width="2.4" />
<line x1="205.3" y1="0.0" x2="205.3" y2="87.2" stroke="#1a1a1a" stroke-width="2.4" />
<line x1="220.8" y1="0.0" x2="220.8" y2="87.2" stroke="#1a1a1a" stroke-width="2.4" />
<line x1="236.4" y1="0.0" x2="236.4" y2="87.2" stroke="#1a1a1a" stroke-width="2.4" />
<circle cx="181.9" cy="17.6" r="3.3" fill="#fff" stroke="#1a1a1a" stroke-width="1.9"/>
<circle cx="181.9" cy="69.6" r="3.3" fill="#fff" stroke="#1a1a1a" stroke-width="1.9"/>
<circle cx="197.5" cy="17.6" r="3.3" fill="#fff" stroke="#1a1a1a" stroke-width="1.9"/>
<circle cx="197.5" cy="69.6" r="3.3" fill="#fff" stroke="#1a1a1a" stroke-width="1.9"/>
<circle cx="213.0" cy="17.6" r="3.3" fill="#fff" stroke="#1a1a1a" stroke-width="1.9"/>
<circle cx="213.0" cy="69.6" r="3.3" fill="#fff" stroke="#1a1a1a" stroke-width="1.9"/>
<circle cx="228.6" cy="17.6" r="3.3" fill="#fff" stroke="#1a1a1a" stroke-width="1.9"/>
<circle cx="228.6" cy="69.6" r="3.3" fill="#fff" stroke="#1a1a1a" stroke-width="1.9"/>
<circle cx="244.2" cy="17.6" r="3.3" fill="#fff" stroke="#1a1a1a" stroke-width="1.9"/>
<circle cx="244.2" cy="69.6" r="3.3" fill="#fff" stroke="#1a1a1a" stroke-width="1.9"/>
<rect x="-10.4" y="22.4" width="10.4" height="42.4" fill="#fff" stroke="#1a1a1a" stroke-width="2.4"/>
<rect x="-18.3" y="29.8" width="6.0" height="25.5" fill="#fff" stroke="#1a1a1a" stroke-width="3.6"/>
<rect x="77.1" y="22.4" width="9.3" height="42.4" fill="#fff" stroke="#1a1a1a" stroke-width="2.4"/>
<rect x="164.9" y="22.4" width="9.2" height="42.4" fill="#fff" stroke="#1a1a1a" stroke-width="2.4"/>
<rect x="252.0" y="22.4" width="11.2" height="42.4" fill="#fff" stroke="#1a1a1a" stroke-width="2.4"/>
<rect x="265.0" y="29.8" width="6.0" height="25.5" fill="#fff" stroke="#1a1a1a" stroke-width="3.6"/>
</g></defs>
<line x1="425.0" y1="237.0" x2="707.0" y2="237.0" stroke="#1a1a1a" stroke-width="4" />
<line x1="425.0" y1="438.2" x2="707.0" y2="438.2" stroke="#1a1a1a" stroke-width="4" />
<line x1="425.0" y1="280.8" x2="707.0" y2="280.8" stroke="#1a1a1a" stroke-width="4" />
<line x1="425.0" y1="342.2" x2="707.0" y2="342.2" stroke="#1a1a1a" stroke-width="4" />
<line x1="425.0" y1="403.6" x2="707.0" y2="403.6" stroke="#1a1a1a" stroke-width="4" />
<use href="#fuse" x="440.2" y="243.9"/>
<use href="#fuse" x="522.3" y="243.9"/>
<use href="#fuse" x="634.2" y="243.9"/>
<text x="677.0" y="226.8" font-size="39" text-anchor="middle" fill="#2a2a2a" stroke="#fff" stroke-width="1.0" >N</text>
<text x="671.5" y="475.5" font-size="39" text-anchor="middle" fill="#2a2a2a" stroke="#fff" stroke-width="1.0" textLength="39" lengthAdjust="spacingAndGlyphs">PE</text>
<use href="#term" x="440.4" y="612.4"/>
<line x1="732.7" y1="237.0" x2="1014.7" y2="237.0" stroke="#1a1a1a" stroke-width="4" />
<line x1="732.7" y1="438.2" x2="1014.7" y2="438.2" stroke="#1a1a1a" stroke-width="4" />
<line x1="732.7" y1="280.8" x2="1014.7" y2="280.8" stroke="#1a1a1a" stroke-width="4" />
<line x1="732.7" y1="342.2" x2="1014.7" y2="342.2" stroke="#1a1a1a" stroke-width="4" />
<line x1="732.7" y1="403.6" x2="1014.7" y2="403.6" stroke="#1a1a1a" stroke-width="4" />
<use href="#fuse" x="747.9" y="243.9"/>
<use href="#fuse" x="830.0" y="243.9"/>
<use href="#fuse" x="941.9" y="243.9"/>
<text x="984.7" y="226.8" font-size="39" text-anchor="middle" fill="#2a2a2a" stroke="#fff" stroke-width="1.0" >N</text>
<text x="979.2" y="475.5" font-size="39" text-anchor="middle" fill="#2a2a2a" stroke="#fff" stroke-width="1.0" textLength="39" lengthAdjust="spacingAndGlyphs">PE</text>
<use href="#term" x="748.1" y="612.4"/>
<line x1="1040.5" y1="237.0" x2="1322.5" y2="237.0" stroke="#1a1a1a" stroke-width="4" />
<line x1="1040.5" y1="438.2" x2="1322.5" y2="438.2" stroke="#1a1a1a" stroke-width="4" />
<line x1="1040.5" y1="280.8" x2="1322.5" y2="280.8" stroke="#1a1a1a" stroke-width="4" />
<line x1="1040.5" y1="342.2" x2="1322.5" y2="342.2" stroke="#1a1a1a" stroke-width="4" />
<line x1="1040.5" y1="403.6" x2="1322.5" y2="403.6" stroke="#1a1a1a" stroke-width="4" />
<use href="#fuse" x="1055.7" y="243.9"/>
<use href="#fuse" x="1137.8" y="243.9"/>
<use href="#fuse" x="1249.7" y="243.9"/>
<text x="1292.5" y="226.8" font-size="39" text-anchor="middle" fill="#2a2a2a" stroke="#fff" stroke-width="1.0" >N</text>
<text x="1287.0" y="475.5" font-size="39" text-anchor="middle" fill="#2a2a2a" stroke="#fff" stroke-width="1.0" textLength="39" lengthAdjust="spacingAndGlyphs">PE</text>
<use href="#term" x="1055.9" y="612.4"/>
<line x1="1348.2" y1="237.0" x2="1630.2" y2="237.0" stroke="#1a1a1a" stroke-width="4" />
<line x1="1348.2" y1="438.2" x2="1630.2" y2="438.2" stroke="#1a1a1a" stroke-width="4" />
<line x1="1348.2" y1="280.8" x2="1630.2" y2="280.8" stroke="#1a1a1a" stroke-width="4" />
<line x1="1348.2" y1="342.2" x2="1630.2" y2="342.2" stroke="#1a1a1a" stroke-width="4" />
<line x1="1348.2" y1="403.6" x2="1630.2" y2="403.6" stroke="#1a1a1a" stroke-width="4" />
<use href="#fuse" x="1363.4" y="243.9"/>
<use href="#fuse" x="1445.5" y="243.9"/>
<use href="#fuse" x="1557.4" y="243.9"/>
<text x="1600.2" y="226.8" font-size="39" text-anchor="middle" fill="#2a2a2a" stroke="#fff" stroke-width="1.0" >N</text>
<text x="1594.7" y="475.5" font-size="39" text-anchor="middle" fill="#2a2a2a" stroke="#fff" stroke-width="1.0" textLength="39" lengthAdjust="spacingAndGlyphs">PE</text>
<use href="#term" x="1363.6" y="612.4"/>
<rect x="1748.5" y="71.0" width="12.4" height="1338.0" fill="#fff" stroke="#1a1a1a" stroke-width="4"/>
<path d="M1773.5,1262 L1773.5,1276 Q1773.5,1282 1779,1282 L1887,1282 Q1892.8,1282 1892.8,1276 L1892.8,1262" fill="#fff" stroke="#1a1a1a" stroke-width="4" />
<rect x="1773.5" y="188.5" width="119.5" height="1077.0" fill="#fff" stroke="#1a1a1a" stroke-width="4"/>
<rect x="1893.5" y="188.5" width="64.0" height="307.5" fill="#fff" stroke="#1a1a1a" stroke-width="4"/>
<rect x="1893.5" y="496.0" width="104.0" height="615.0" fill="#fff" stroke="#1a1a1a" stroke-width="4"/>
<rect x="1893.5" y="1111.0" width="64.5" height="154.7" fill="#fff" stroke="#1a1a1a" stroke-width="4"/>
<path d="M1772.6,1282.6 L1782.3,1311.5 L1788.5,1311.5 Q1786.1,1318.7 1791.9,1324.5 Q1788.2,1329.5 1794.4,1335.4 Q1792.0,1341.3 1797.4,1346.6 Q1794.4,1352.2 1800.9,1357.6 Q1798.7,1363.0 1804.9,1368.6 Q1802.5,1374.8 1807.9,1379.3 Q1809.9,1382.3 1812.9,1382.3 L1852.9,1382.3 Q1855.9,1382.3 1857.9,1379.3 Q1863.3,1374.8 1860.9,1368.6 Q1867.1,1363.0 1864.9,1357.6 Q1871.4,1352.2 1868.4,1346.6 Q1873.8,1341.3 1871.4,1335.4 Q1877.6,1329.5 1873.9,1324.5 Q1879.7,1318.7 1877.3,1311.5 L1883.5,1311.5 L1893.2,1282.6 Z" fill="#1a1a1a" stroke="#1a1a1a" stroke-width="1.2" stroke-linejoin="round"/>
<line x1="1784.3" y1="1293.6" x2="1881.5" y2="1293.6" stroke="#fff" stroke-width="5" />
<line x1="1787.9" y1="1304.0" x2="1877.9" y2="1304.0" stroke="#fff" stroke-width="4.2" />
<line x1="1794.9" y1="1312.8" x2="1870.9" y2="1312.8" stroke="#fff" stroke-width="3" />
<line x1="1796.9" y1="1324.5" x2="1868.9" y2="1324.5" stroke="#9a9a9a" stroke-width="3" />
<line x1="1800.4" y1="1335.8" x2="1865.4" y2="1335.8" stroke="#aaa" stroke-width="3" />
<line x1="1802.9" y1="1347.1" x2="1862.9" y2="1347.1" stroke="#bbb" stroke-width="3" />
<line x1="1806.9" y1="1358.0" x2="1858.9" y2="1358.0" stroke="#888" stroke-width="3.4" />
<line x1="1811.4" y1="1368.9" x2="1854.4" y2="1368.9" stroke="#eee" stroke-width="2.6" />
<rect x="1724.0" y="233.5" width="22.5" height="57.0" fill="#fff" stroke="#1a1a1a" stroke-width="3.8"/>
<rect x="1724.5" y="1191.0" width="22.0" height="58.5" fill="#fff" stroke="#1a1a1a" stroke-width="3.8"/>
<rect x="1763.0" y="200.0" width="9.0" height="33.0" fill="#fff" stroke="#1a1a1a" stroke-width="3.6"/>
<rect x="1762.5" y="199.0" width="10.0" height="6.0" fill="#1a1a1a"/>
<rect x="1762.5" y="228.0" width="10.0" height="6.0" fill="#1a1a1a"/>
<rect x="1763.5" y="1226.0" width="8.0" height="28.0" fill="#fff" stroke="#1a1a1a" stroke-width="3.2"/>
</svg></body></html>
